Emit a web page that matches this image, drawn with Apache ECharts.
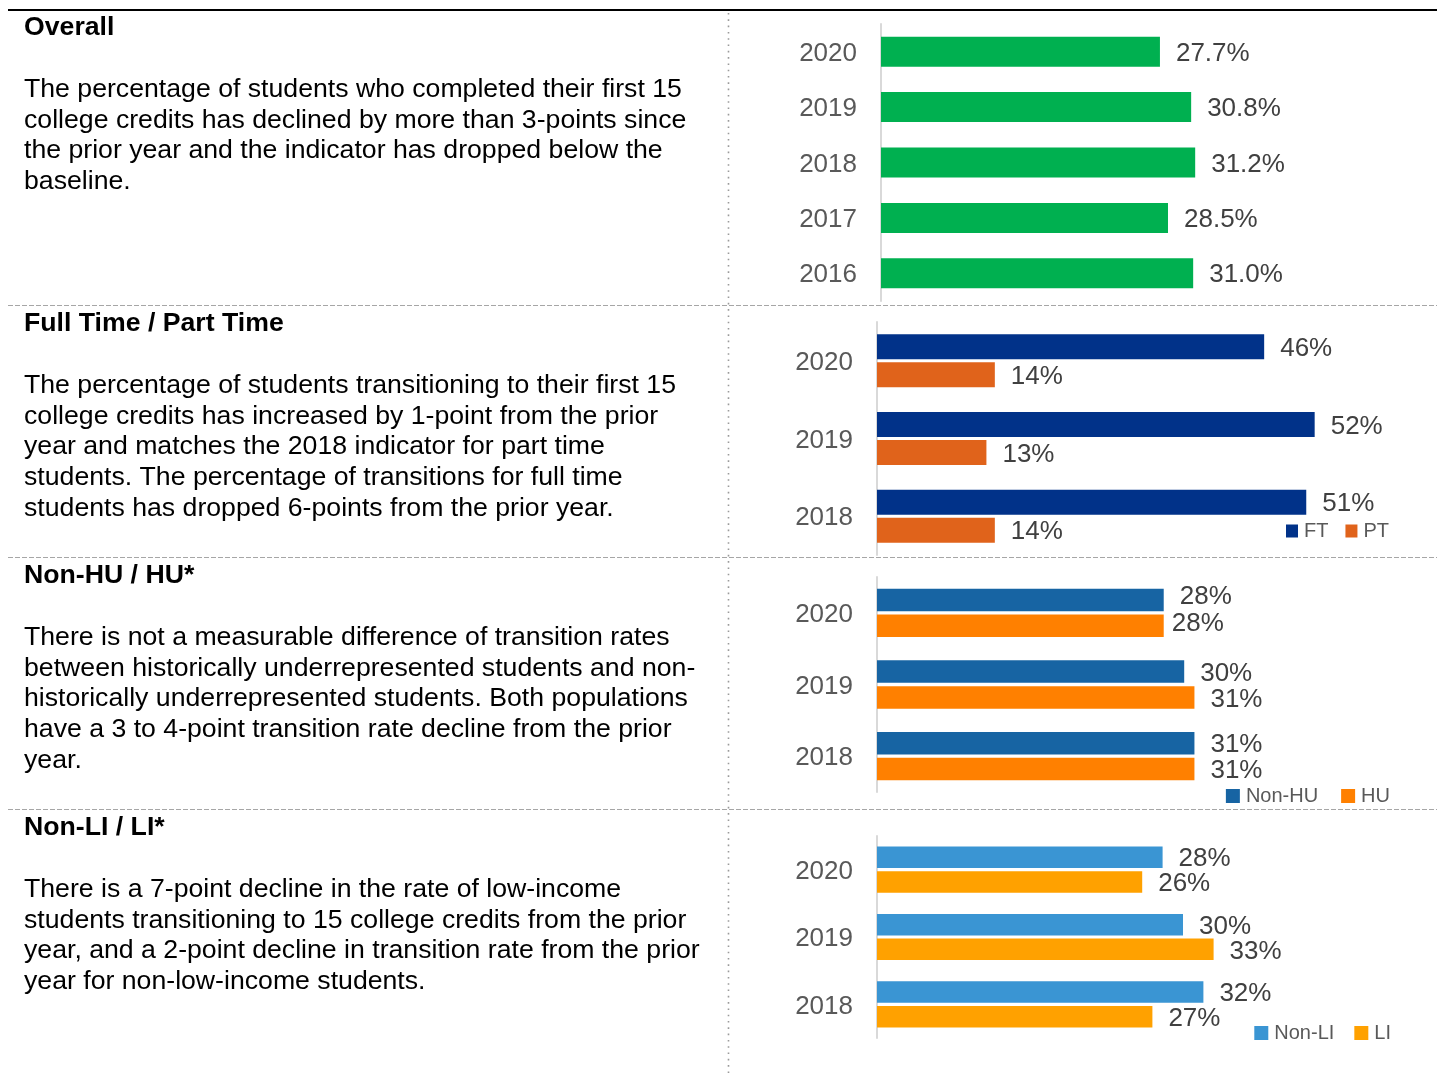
<!DOCTYPE html>
<html>
<head>
<meta charset="utf-8">
<script src="https://cdn.jsdelivr.net/npm/echarts@6/dist/echarts.min.js"></script>
<style>
  html, body { margin: 0; padding: 0; background: #fff; }
  #chart { width: 1437px; height: 1075px; }
</style>
</head>
<body>
<div id="chart"></div>
<script>
// Transition to first 15 college credits, by year and student group
const overallYears = ['2020', '2019', '2018', '2017', '2016'];
const overallRate = [27.7, 30.8, 31.2, 28.5, 31.0];

const groupYears = ['2020', '2019', '2018'];
const ftRate = [46, 52, 51];
const ptRate = [14, 13, 14];
const nonHuRate = [28, 30, 31];
const huRate = [28, 31, 31];
const nonLiRate = [28, 30, 32];
const liRate = [26, 33, 27];

const sections = [
  {
    heading: 'Overall',
    body: [
      'The percentage of students who completed their first 15',
      'college credits has declined by more than 3-points since',
      'the prior year and the indicator has dropped below the',
      'baseline.'
    ]
  },
  {
    heading: 'Full Time / Part Time',
    body: [
      'The percentage of students transitioning to their first 15',
      'college credits has increased by 1-point from the prior',
      'year and matches the 2018 indicator for part time',
      'students. The percentage of transitions for full time',
      'students has dropped 6-points from the prior year.'
    ]
  },
  {
    heading: 'Non-HU / HU*',
    body: [
      'There is not a measurable difference of transition rates',
      'between historically underrepresented students and non-',
      'historically underrepresented students. Both populations',
      'have a 3 to 4-point transition rate decline from the prior',
      'year.'
    ]
  },
  {
    heading: 'Non-LI / LI*',
    body: [
      'There is a 7-point decline in the rate of low-income',
      'students transitioning to 15 college credits from the prior',
      'year, and a 2-point decline in transition rate from the prior',
      'year for non-low-income students.'
    ]
  }
];

const FONT = '"Liberation Sans", Arial, sans-serif';

// Layout of the four panels (text on the left, bars on the right)
const panels = [
  { top: 24,  height: 277, left: 881, width: 503.5, max: 50, years: overallYears, headY: 28,  bodyTop: 74.2 },
  { top: 322, height: 233, left: 877, width: 505,   max: 60, years: groupYears,   headY: 324, bodyTop: 370.2 },
  { top: 577, height: 215, left: 877, width: 512,   max: 50, years: groupYears,   headY: 576, bodyTop: 622.2 },
  { top: 836, height: 202, left: 877, width: 510,   max: 50, years: groupYears,   headY: 828, bodyTop: 874.2 }
];

const grids = panels.map(p => ({ left: p.left, top: p.top, width: p.width, height: p.height, containLabel: false }));
const xAxes = panels.map((p, i) => ({
  type: 'value', gridIndex: i, min: 0, max: p.max, show: false
}));
const yAxes = panels.map((p, i) => ({
  type: 'category', gridIndex: i, data: p.years, inverse: true,
  axisLine: { show: true, lineStyle: { color: '#d9d9d9', width: 2 } },
  axisTick: { show: false },
  splitLine: { show: false },
  axisLabel: {
    margin: 24,
    formatter: '{yr|{value}}',
    rich: { yr: { color: '#595959', fontSize: 26, fontFamily: FONT, padding: [4, 0, 0, 0] } }
  }
}));

function valueLabel(decimals) {
  return {
    show: true, position: 'right', distance: 16, offset: [0, 2],
    color: '#404040', fontSize: 26, fontFamily: FONT,
    formatter: p => p.value.toFixed(decimals) + '%'
  };
}

function barSeries(name, values, grid, color, width, gap, decimals, labelTweaks) {
  return {
    type: 'bar', name: name, xAxisIndex: grid, yAxisIndex: grid,
    barWidth: width, barGap: gap,
    itemStyle: { color: color },
    label: valueLabel(decimals),
    emphasis: { disabled: true },
    data: values.map((v, i) => {
      const t = labelTweaks && labelTweaks[i];
      return t ? { value: v, label: t } : v;
    })
  };
}

const series = [
  barSeries('Overall', overallRate, 0, '#00b050', 30, '0%', 1),
  barSeries('FT', ftRate, 1, '#013289', 25, '12%', 0),
  barSeries('PT', ptRate, 1, '#e0631b', 25, '12%', 0),
  barSeries('Non-HU', nonHuRate, 2, '#1764a3', 22.5, '15%', 0, [{ offset: [0, -3] }]),
  barSeries('HU', huRate, 2, '#ff8000', 22.5, '15%', 0, [{ distance: 8, offset: [0, -2] }]),
  barSeries('Non-LI', nonLiRate, 3, '#3a95d3', 21.5, '15%', 0),
  barSeries('LI', liRate, 3, '#ffa100', 21.5, '15%', 0)
];

function legendFor(names, top, right, iconW, iconH, gap) {
  return {
    data: names, top: top, right: right, orient: 'horizontal',
    padding: 0, itemGap: gap, itemWidth: iconW, itemHeight: iconH,
    icon: 'rect', selectedMode: false,
    textStyle: { color: '#595959', fontSize: 20, fontFamily: FONT, padding: [0, 0, 0, 1] }
  };
}

const legends = [
  legendFor(['FT', 'PT'], 521, 48, 12, 13, 17),
  legendFor(['Non-HU', 'HU'], 786, 47, 14, 14, 23),
  legendFor(['Non-LI', 'LI'], 1023, 46, 14, 14, 20)
];

// Frame: top rule, dashed row separators, dotted column separator
const graphics = [
  { type: 'line', shape: { x1: 8, y1: 10, x2: 1437, y2: 10 }, style: { stroke: '#000', lineWidth: 2 } },
  { type: 'line', shape: { x1: 728.5, y1: 13, x2: 728.5, y2: 1075 }, style: { stroke: '#9a9a9a', lineWidth: 1.6, lineDash: [1.6, 4.7] } }
];
[305.5, 557.5, 809.5].forEach(y => {
  graphics.push({ type: 'line', shape: { x1: 8, y1: y, x2: 1437, y2: y }, style: { stroke: '#a6a6a6', lineWidth: 1, lineDash: [5, 2] } });
});

sections.forEach((s, i) => {
  const p = panels[i];
  graphics.push({
    type: 'text', x: 24, y: p.headY,
    style: { text: s.heading, font: 'bold 26.67px ' + FONT, fill: '#000', verticalAlign: 'middle', align: 'left' }
  });
  graphics.push({
    type: 'text', x: 24, y: p.bodyTop,
    style: { text: s.body.join('\n'), font: '26.67px ' + FONT, fill: '#000', lineHeight: 30.7, verticalAlign: 'top', align: 'left' }
  });
});

const chart = echarts.init(document.getElementById('chart'), null, { renderer: 'canvas' });
chart.setOption({
  backgroundColor: '#fff',
  animation: false,
  grid: grids,
  xAxis: xAxes,
  yAxis: yAxes,
  legend: legends,
  series: series,
  graphic: graphics
});
</script>
</body>
</html>
